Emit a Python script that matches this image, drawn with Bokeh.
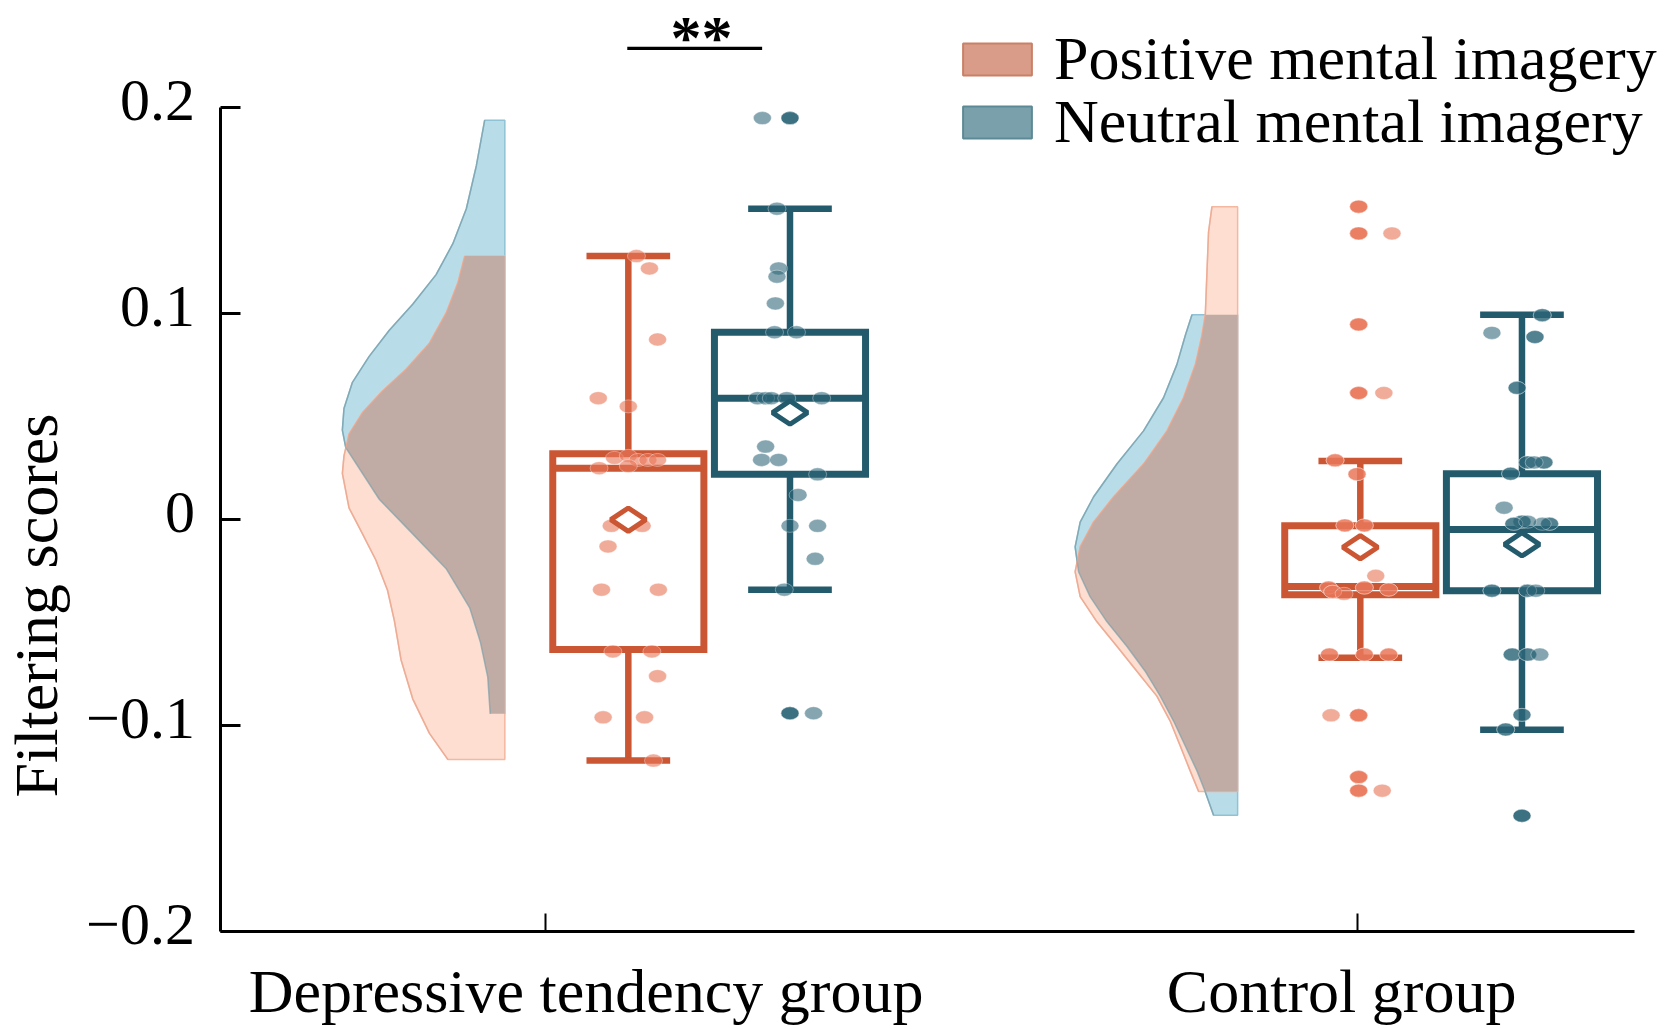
import numpy as np
from bokeh.plotting import figure
from bokeh.models import Range1d, FixedTicker, Legend, LegendItem
from bokeh.embed import file_html
from bokeh.resources import INLINE

# ---------------- data ----------------
group_labels = ["Depressive tendency group", "Control group"]
condition_labels = ["Positive mental imagery", "Neutral mental imagery"]
y_title = "Filtering scores"
y_tick_values = [-0.2, -0.1, 0, 0.1, 0.2]
y_tick_labels = ["\u22120.2", "\u22120.1", "0", "0.1", "0.2"]
significance = "**"

# box-plot statistics: [depressive tendency group, control group]
pos_upper = [0.128, 0.0285]
pos_q3 = [0.032, -0.003]
pos_median = [0.025, -0.0325]
pos_q1 = [-0.063, -0.0365]
pos_lower = [-0.117, -0.067]
pos_mean = [0.0, -0.0134]

neu_upper = [0.151, 0.0995]
neu_q3 = [0.091, 0.0223]
neu_median = [0.059, -0.0048]
neu_q1 = [0.022, -0.0345]
neu_lower = [-0.034, -0.102]
neu_mean = [0.052, -0.012]

# individual filtering scores (with the horizontal jitter)
dep_pos_scores = [0.128, 0.122, 0.0875, 0.059, 0.055, 0.030, 0.031, 0.029, 0.029, 0.029,
                  0.025, 0.026, -0.003, -0.003, -0.013, -0.034, -0.034, -0.064, -0.064,
                  -0.076, -0.096, -0.096, -0.117]
dep_pos_jitter = [0.010, 0.026, 0.036, -0.037, 0.0, -0.017, 0.0, 0.012, 0.024, 0.036,
                  -0.036, 0.0, -0.021, 0.017, -0.025, -0.033, 0.037, -0.019, 0.029,
                  0.036, -0.031, 0.020, 0.031]

dep_neu_scores = [0.195, 0.195, 0.195, 0.195, 0.151, 0.122, 0.118, 0.105, 0.091, 0.091,
                  0.059, 0.059, 0.059, 0.059, 0.059, 0.0355, 0.029, 0.029, 0.022, 0.012,
                  -0.003, -0.003, -0.019, -0.034, -0.094, -0.094, -0.094, -0.094]
dep_neu_jitter = [-0.034, 0.0, 0.0, 0.0, -0.016, -0.014, -0.016, -0.018, -0.019, 0.008,
                  -0.040, -0.030, -0.023, -0.004, 0.039, -0.030, -0.035, -0.014, 0.034, 0.010,
                  0.0, 0.034, 0.031, -0.007, 0.0, 0.0, 0.0, 0.029]

ctl_pos_scores = [0.152, 0.152, 0.152, 0.139, 0.139, 0.139, 0.139, 0.0948, 0.0948, 0.0948,
                  0.0615, 0.0615, 0.0615, 0.0615, 0.0288, 0.0288, 0.0221, 0.0221,
                  -0.0028, -0.0028, -0.0028, -0.0028, -0.0273, -0.033, -0.033, -0.035, -0.035,
                  -0.033, -0.033, -0.034, -0.034, -0.036, -0.0655, -0.0655, -0.0655, -0.0655,
                  -0.0655, -0.0655, -0.095, -0.095, -0.095, -0.095, -0.125, -0.125, -0.125,
                  -0.1316, -0.1316, -0.1316, -0.1316]
ctl_pos_jitter = [-0.002, -0.002, -0.002, -0.002, -0.002, -0.002, 0.039, -0.002, -0.002, -0.002,
                  -0.002, -0.002, -0.002, 0.029, -0.031, -0.031, -0.004, -0.004,
                  -0.019, -0.019, 0.005, 0.005, 0.019, -0.039, -0.039, -0.034, -0.034,
                  0.005, 0.005, 0.035, 0.035, -0.020, -0.038, -0.038, 0.005, 0.005,
                  0.035, 0.035, -0.036, -0.002, -0.002, -0.002, -0.002, -0.002, -0.002,
                  -0.002, -0.002, -0.002, 0.027]

ctl_neu_scores = [0.0993, 0.0993, 0.0907, 0.0887, 0.0887, 0.064, 0.064, 0.0278, 0.0278,
                  0.0278, 0.0278, 0.0278, 0.0223, 0.0223, 0.0058, -0.001, -0.001, -0.002,
                  -0.002, -0.002, -0.002, -0.002, -0.001, -0.0345, -0.0345, -0.0345, -0.0345,
                  -0.0345, -0.0655, -0.0655, -0.0655, -0.0655, -0.0655, -0.0948, -0.0948,
                  -0.1019, -0.1019, -0.1438, -0.1438, -0.1438]
ctl_neu_jitter = [0.025, 0.025, -0.037, 0.016, 0.016, -0.006, -0.006, 0.007, 0.007,
                  0.027, 0.027, 0.015, -0.014, -0.014, -0.022, 0.0, 0.0, -0.010,
                  -0.010, 0.034, 0.034, 0.025, 0.007, -0.037, -0.037, 0.007, 0.007,
                  0.017, -0.012, -0.012, 0.007, 0.007, 0.022, 0.0, 0.0,
                  -0.020, -0.020, 0.0, 0.0, 0.0]

# half-violin density outlines: score level and relative width (1 = widest)
dep_pos_dens_y = [0.128, 0.115, 0.1004, 0.0857, 0.073, 0.0625, 0.052, 0.0415, 0.031, 0.0225,
                  0.0057, -0.0069, -0.0196, -0.0343, -0.049, -0.068, -0.087, -0.1038, -0.1165]
dep_pos_dens_w = [0.247, 0.289, 0.361, 0.464, 0.608, 0.753, 0.876, 0.959, 0.99, 1.0,
                  0.959, 0.876, 0.794, 0.722, 0.68, 0.639, 0.567, 0.464, 0.35]
dep_neu_dens_y = [0.194, 0.172, 0.151, 0.134, 0.119, 0.1046, 0.092, 0.0793, 0.0667, 0.054,
                  0.0435, 0.035, 0.0099, -0.0069, -0.0238, -0.0428, -0.0596, -0.0765, -0.0943]
dep_neu_dens_w = [0.124, 0.175, 0.237, 0.32, 0.423, 0.567, 0.711, 0.835, 0.938, 0.99,
                  1.0, 0.979, 0.773, 0.567, 0.361, 0.216, 0.15, 0.105, 0.09]
ctl_pos_dens_y = [0.152, 0.1397, 0.1196, 0.0995, 0.0894, 0.0753, 0.0592, 0.0431, 0.027, 0.011,
                  -0.0012, -0.0132, -0.0253, -0.0374, -0.0495, -0.0615, -0.0736, -0.0857,
                  -0.0978, -0.1099, -0.122, -0.132]
ctl_pos_dens_w = [0.158, 0.179, 0.189, 0.199, 0.22, 0.26, 0.333, 0.435, 0.579, 0.764,
                  0.887, 0.969, 1.0, 0.969, 0.867, 0.743, 0.62, 0.497,
                  0.415, 0.353, 0.292, 0.24]
ctl_neu_dens_y = [0.0995, 0.0894, 0.0753, 0.0592, 0.0431, 0.027, 0.011, -0.0012, -0.0132,
                  -0.0253, -0.0374, -0.0495, -0.0615, -0.0736, -0.0857, -0.0978, -0.1099,
                  -0.122, -0.132, -0.1436]
ctl_neu_dens_w = [0.281, 0.322, 0.374, 0.456, 0.579, 0.743, 0.887, 0.969, 1.0,
                  0.979, 0.908, 0.805, 0.682, 0.569, 0.476, 0.394, 0.322,
                  0.25, 0.2, 0.148]

# ---------------- layout / style ----------------
FONT = "Liberation Serif"
ORANGE = "#CB5633"
BLUE = "#245B6C"
ORANGE_PT = "#E8785A"
BLUE_PT = "#2D6678"
group_x = [1, 2]
violin_edge = [0.950, 1.852]
pos_x = [1.102, 2.003]
neu_x = [1.301, 2.202]
VIOLIN_W = 0.2
BOX_HALF = 0.093
CAP_HALF = 0.0515
X_AXIS_START = 0.6
X_AXIS_END = 2.34
Y_AXIS_START = -0.2
Y_AXIS_END = 0.2
TICK_LABEL_DY = 0.0034

# frame covers the whole canvas; the axes are drawn at fixed data locations
p = figure(width=1662, height=1026, output_backend="svg", toolbar_location=None,
           x_range=Range1d(0.34151, 2.37499), y_range=Range1d(-0.24613, 0.25211),
           min_border_left=10, min_border_right=0, min_border_top=0, min_border_bottom=0)
p.outline_line_color = None
p.xgrid.grid_line_color = None
p.ygrid.grid_line_color = None
p.background_fill_color = "white"


def violin_shape(edge, ys, ws):
    xs = [edge] + [edge - VIOLIN_W * w for w in ws] + [edge]
    yy = [ys[0]] + list(ys) + [ys[-1]]
    return xs, yy


def overlap_shape(edge, ya, wa, yb, wb):
    top = min(ya[0], yb[0])
    bot = max(ya[-1], yb[-1])
    grid = np.linspace(top, bot, 240)
    fa = np.interp(grid, ya[::-1], wa[::-1])
    fb = np.interp(grid, yb[::-1], wb[::-1])
    w = np.minimum(fa, fb)
    xs = [edge] + list(edge - VIOLIN_W * w) + [edge]
    yy = [top] + list(grid) + [bot]
    return xs, yy


dens = [
    (dep_pos_dens_y, dep_pos_dens_w, dep_neu_dens_y, dep_neu_dens_w),
    (ctl_pos_dens_y, ctl_pos_dens_w, ctl_neu_dens_y, ctl_neu_dens_w),
]
for gi, (py, pw, ny, nw) in enumerate(dens):
    e = violin_edge[gi]
    bx, by = violin_shape(e, ny, nw)
    ox, oy = violin_shape(e, py, pw)
    p.patch(bx, by, fill_color="#B8DDE9", line_color="#8EC2D4", line_width=1.5)
    p.patch(ox, oy, fill_color="#FDDED1", line_color="#F4B7A0", line_width=1.5)
    vx, vy = overlap_shape(e, py, pw, ny, nw)
    p.patch(vx, vy, fill_color="#C0ACA5", line_color=None)
    p.line(bx[1:-1], by[1:-1], line_color="#7E9FAA", line_alpha=0.7, line_width=1.5)
    p.line(ox[1:-1], oy[1:-1], line_color="#E9A58E", line_alpha=0.6, line_width=1.5)

# boxes, whiskers
stats = [
    (pos_x, pos_upper, pos_q3, pos_median, pos_q1, pos_lower, ORANGE),
    (neu_x, neu_upper, neu_q3, neu_median, neu_q1, neu_lower, BLUE),
]
for xs, up, q3, med, q1, lo, col in stats:
    xs = np.array(xs)
    p.segment(x0=xs, y0=q3, x1=xs, y1=up, line_color=col, line_width=6.5)
    p.segment(x0=xs, y0=q1, x1=xs, y1=lo, line_color=col, line_width=6.5)
    p.segment(x0=xs - CAP_HALF, y0=up, x1=xs + CAP_HALF, y1=up, line_color=col, line_width=6.5)
    p.segment(x0=xs - CAP_HALF, y0=lo, x1=xs + CAP_HALF, y1=lo, line_color=col, line_width=6.5)
    p.quad(left=xs - BOX_HALF, right=xs + BOX_HALF, top=q3, bottom=q1,
           fill_color="white", line_color=col, line_width=7, line_join="miter")
    p.segment(x0=xs - BOX_HALF, y0=med, x1=xs + BOX_HALF, y1=med, line_color=col, line_width=7)

# points
pts = [
    (pos_x[0], dep_pos_scores, dep_pos_jitter, ORANGE_PT, 0.62),
    (neu_x[0], dep_neu_scores, dep_neu_jitter, BLUE_PT, 0.58),
    (pos_x[1], ctl_pos_scores, ctl_pos_jitter, ORANGE_PT, 0.62),
    (neu_x[1], ctl_neu_scores, ctl_neu_jitter, BLUE_PT, 0.58),
]
for cx, sc, jt, col, a in pts:
    p.ellipse(x=[cx + j for j in jt], y=sc, width=18, height=13,
              width_units="screen", height_units="screen",
              fill_color=col, fill_alpha=a, line_color="white", line_alpha=0.35, line_width=1)

# means
p.scatter(x=pos_x, y=pos_mean, marker="diamond", size=35, angle=np.pi / 2,
          fill_color="white", line_color=ORANGE, line_width=5)
p.scatter(x=neu_x, y=neu_mean, marker="diamond", size=35, angle=np.pi / 2,
          fill_color="white", line_color=BLUE, line_width=5)

# significance marker
p.segment(x0=[1.1007], y0=[0.2289], x1=[1.2667], y1=[0.2289], line_color="black", line_width=3.3)
p.text(x=[1.192], y=[0.2346], text=[significance], text_align="center",
       text_baseline="middle", text_font={"value": FONT}, text_font_size="62px",
       text_font_style="bold", text_color="black")

# y axis (drawn at x = 0.6)
yax = p.yaxis[0]
yax.fixed_location = X_AXIS_START
yax.ticker = FixedTicker(ticks=y_tick_values)
yax.major_label_overrides = {v: "" for v in y_tick_values}
yax.major_label_text_font_size = "0px"
yax.major_label_standoff = 0
yax.bounds = (Y_AXIS_START, Y_AXIS_END)
yax.axis_line_width = 3
yax.major_tick_in = 20
yax.major_tick_out = 0
yax.major_tick_line_width = 3
yax.minor_tick_line_color = None

# x axis (drawn at y = -0.2)
xax = p.xaxis[0]
xax.fixed_location = Y_AXIS_START
xax.bounds = (X_AXIS_START, X_AXIS_END)
xax.ticker = FixedTicker(ticks=group_x)
xax.major_label_overrides = {v: "" for v in group_x}
xax.major_label_text_font_size = "0px"
xax.major_label_standoff = 0
xax.axis_line_width = 3
xax.major_tick_in = 18
xax.major_tick_out = 0
xax.major_tick_line_width = 2
xax.minor_tick_line_color = None

# axis texts
p.text(x=[X_AXIS_START - 0.0315] * len(y_tick_values),
       y=[v + TICK_LABEL_DY for v in y_tick_values], text=y_tick_labels,
       text_align="right", text_baseline="middle", text_font={"value": FONT},
       text_font_size="60px", text_color="black")
p.text(x=[0.3735], y=[-0.0417], text=[y_title], angle=np.pi / 2, text_align="center",
       text_baseline="middle", text_font={"value": FONT}, text_font_size="62px",
       text_color="black")
p.text(x=[1.05, 1.98], y=[-0.22865, -0.22865], text=group_labels, text_align="center",
       text_baseline="middle", text_font={"value": FONT}, text_font_size="62px",
       text_color="black")

# legend (one entry per box so the rows sit as close as in the original)
r_pos = p.quad(left=pos_x, right=pos_x, top=pos_q3, bottom=pos_q1, fill_color="#D99C88",
               line_color="#C98066", line_width=2, visible=False)
r_neu = p.quad(left=neu_x, right=neu_x, top=neu_q3, bottom=neu_q1, fill_color="#7AA1AB",
               line_color="#5C8996", line_width=2, visible=False)
for label, rend, loc in [(condition_labels[0], r_pos, (944, 932)),
                         (condition_labels[1], r_neu, (944, 869))]:
    p.add_layout(Legend(items=[LegendItem(label=label, renderers=[rend])],
                        location=loc, glyph_width=86, glyph_height=40, label_standoff=14,
                        spacing=0, padding=0, margin=0, border_line_color=None,
                        background_fill_alpha=0, inactive_fill_alpha=0,
                        label_text_font=FONT, label_text_font_size="62px",
                        label_text_color="black"))

open("out.html", "w").write(file_html(p, INLINE))
